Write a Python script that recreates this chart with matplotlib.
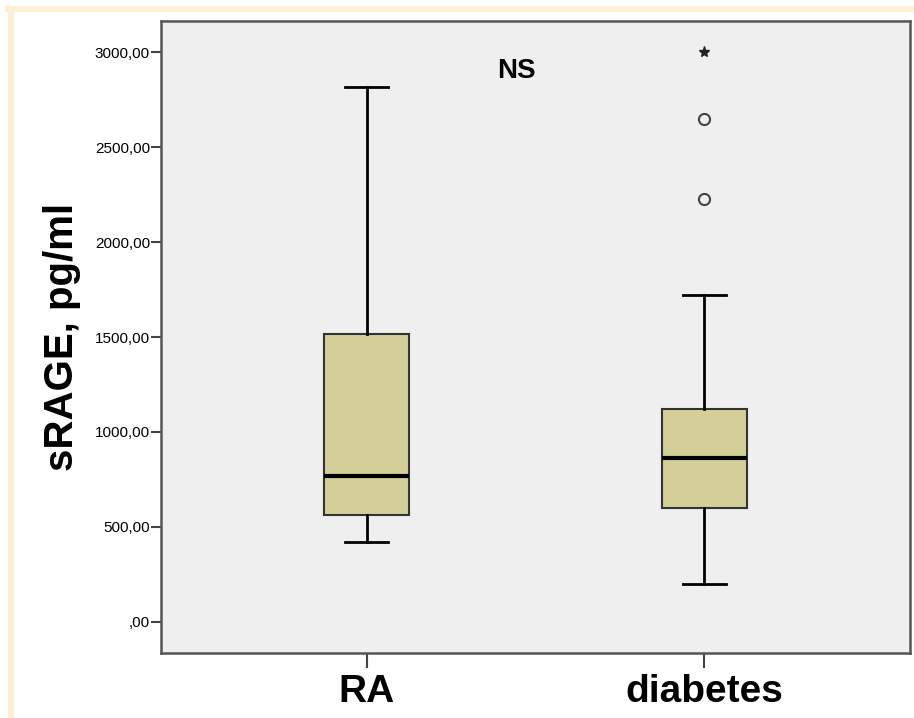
import matplotlib.pyplot as plt
from matplotlib.lines import Line2D
from matplotlib.ticker import FuncFormatter

plt.rcParams['font.family'] = ['Liberation Sans', 'DejaVu Sans']

# box values (pg/ml)
groups = ["RA", "diabetes"]
whislo = [420, 197]
q1 = [562, 601]
med = [768, 861]
q3 = [1516, 1119]
whishi = [2817, 1721]

# outliers of the diabetes group
circle_out = [2227, 2648]
star_out = [3002]
yticks = [0, 500, 1000, 1500, 2000, 2500, 3000]

fig = plt.figure(figsize=(9.14, 7.18), dpi=100)

# beige frame (top and left edges only are visible)
beige = '#FEF1D3'
fig.lines.append(Line2D([11 / 914, 11 / 914], [0, 1 - 9 / 718], transform=fig.transFigure,
                        color=beige, linewidth=4.5))
fig.lines.append(Line2D([8 / 914, 1], [1 - 9 / 718, 1 - 9 / 718], transform=fig.transFigure,
                        color=beige, linewidth=4.5))

ax = fig.add_axes([161 / 914, 1 - 652.7 / 718, (910 - 161) / 914, (652.7 - 21) / 718])
ax.set_facecolor('#EFEFEF')

stats = []
for i in range(len(groups)):
    stats.append({'whislo': whislo[i], 'q1': q1[i], 'med': med[i],
                  'q3': q3[i], 'whishi': whishi[i], 'fliers': []})

ax.bxp(stats, positions=[1, 2], widths=0.25, showfliers=False, patch_artist=True,
       boxprops=dict(facecolor='#D4CF99', edgecolor='#333333', linewidth=1.5),
       medianprops=dict(color='black', linewidth=3),
       whiskerprops=dict(color='black', linewidth=2),
       capprops=dict(color='black', linewidth=2), capwidths=0.125)

ax.plot([2] * len(circle_out), circle_out, 'o', markersize=8, markerfacecolor='none',
        markeredgecolor='#444444', markeredgewidth=1.5)
ax.plot([2] * len(star_out), star_out, '*', markersize=8, color='#222222')

ax.text(1.445, 2900, "NS", fontsize=20, fontweight='bold', ha='center', va='center')

ax.set_xlim(0.392, 2.608)
ax.set_ylim(-163, 3165)
ax.set_yticks(yticks)
ax.yaxis.set_major_formatter(FuncFormatter(lambda v, p: ',00' if v == 0 else f"{int(v)},00"))
ax.set_xticks([1, 2])
ax.set_xticklabels(groups, fontsize=28, fontweight='bold')
ax.tick_params(axis='y', labelsize=11, length=7, width=1.5, color='#444444', pad=1)
ax.tick_params(axis='x', length=11, width=1.5, color='#444444', pad=4)
ax.set_ylabel("sRAGE, pg/ml", fontsize=29, fontweight='bold', labelpad=10)

for s in ax.spines.values():
    s.set_color('#555555')
    s.set_linewidth(1.8)

fig.savefig("out.png", dpi=100, facecolor='white')
